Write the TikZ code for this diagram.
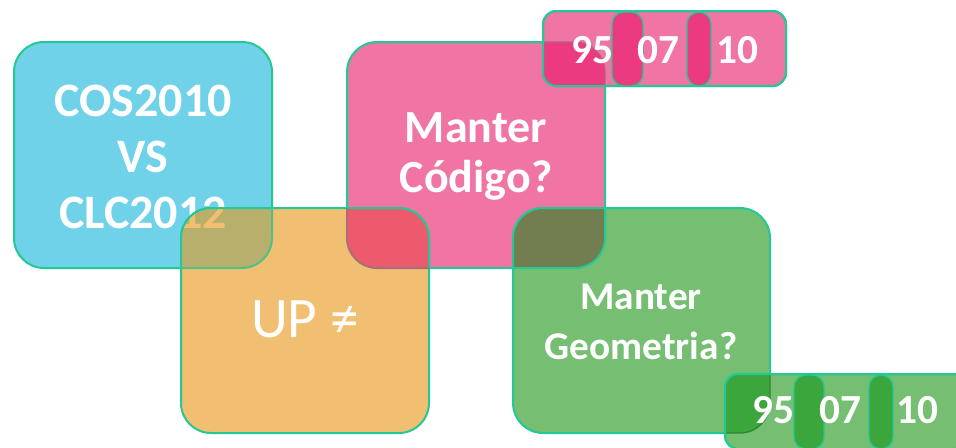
\documentclass[tikz,border=0pt]{standalone}
\usepackage{fontspec}
\setmainfont{Carlito}

\definecolor{edgeteal}{HTML}{22C994}
\definecolor{cosblue}{HTML}{70D2E9}
\definecolor{codpink}{HTML}{F074A4}
\definecolor{uporange}{HTML}{F1BF71}
\definecolor{geogreen}{HTML}{75BE72}
\definecolor{olive}{HTML}{B8AF6C}
\definecolor{redmix}{HTML}{EE5A6D}
\definecolor{darkolive}{HTML}{737E50}
\definecolor{deeppink}{HTML}{EC3A80}
\definecolor{deepgreen}{HTML}{3AA63C}

% areas, in pixels of the slide
\def\cosArea{(14,42) rectangle (272,268)}
\def\codArea{(347,42) rectangle (605,268)}
\def\upArea{(181,208) rectangle (429,433)}
\def\geoArea{(513,208) rectangle (770,433)}
\def\codStrip{(543,11) rectangle (786,86)}
\def\geoStrip{(725,374) rectangle (968,449)}
\def\cosText{COS2010\\VS\\CLC2012}

\begin{document}
\begin{tikzpicture}[x=0.75pt,y=-0.75pt,line width=1.5pt,
    every path/.style={rounded corners=22.5pt},
    box/.style={draw=edgeteal},
    strip/.style={rounded corners=10pt},
    bar/.style={draw=edgeteal,line width=1pt,rounded corners=9pt},
    boxlabel/.style={text=white,align=center},
    digit/.style={text=white,anchor=base,font=\bfseries\fontsize{31}{31}\selectfont}]
    \clip[rounded corners=0pt] (0,0) rectangle (956,447);

    \filldraw[box,fill=cosblue] \cosArea;
    \node[boxlabel,font=\bfseries\fontsize{36}{42}\selectfont] (cos) at (143,157) {\cosText};
    \filldraw[box,fill=codpink] \codArea;
    \node[boxlabel,font=\bfseries\fontsize{34.5}{37.5}\selectfont] (cod) at (476,156) {Manter\\Código?};
    \filldraw[box,fill=uporange] \upArea;

    % blue and orange
    \scope
    \clip \cosArea;
    \fill[olive] \upArea;
    \scope
    \clip \upArea;
    \node[boxlabel,text=uporange,font=\bfseries\fontsize{36}{42}\selectfont] at (cos) {\cosText};
    \endscope
    \draw[draw=edgeteal] \upArea;
    \endscope
    \scope
    \clip \upArea;
    \draw[draw=edgeteal!70!olive] \cosArea;
    \endscope

    % pink and orange
    \scope
    \clip \codArea;
    \fill[redmix] \upArea;
    \draw[draw=edgeteal] \upArea;
    \endscope
    \scope
    \clip \upArea;
    \draw[draw=redmix!55!black!70] \codArea;
    \endscope
    \node[text=white,font=\fontsize{43}{43}\selectfont] (up) at (305,319) {UP ≠};

    \filldraw[box,fill=geogreen] \geoArea;
    \node[boxlabel,font=\bfseries\fontsize{29.5}{37}\selectfont] (geo) at (641,322) {Manter\\Geometria?};

    % pink and green
    \scope
    \clip \codArea;
    \fill[darkolive] \geoArea;
    \draw[draw=edgeteal] \geoArea;
    \endscope
    \scope
    \clip \geoArea;
    \draw[draw=edgeteal] \codArea;
    \endscope

    % year strips
    \filldraw[box,strip,fill=codpink] \codStrip;
    \scope
    \clip \codArea;
    \fill[strip,deeppink] \codStrip;
    \endscope
    \scope
    \clip[strip] \codStrip;
    \draw[draw=deeppink!60!black!70,line width=1pt] \codArea;
    \endscope
    \draw[box,strip] \codStrip;
    \filldraw[bar,fill=deeppink] (612,12) rectangle (643,86);
    \filldraw[bar,fill=deeppink] (687,12) rectangle (711,86);
    \node[digit] (c95) at (592,63) {95};
    \node[digit] (c07) at (658,63) {07};
    \node[digit] (c10) at (737,63) {10};

    \filldraw[box,strip,fill=geogreen] \geoStrip;
    \scope
    \clip \geoArea;
    \fill[strip,deepgreen] \geoStrip;
    \endscope
    \scope
    \clip[strip] \geoStrip;
    \draw[draw=deepgreen!80!black,line width=1pt] \geoArea;
    \endscope
    \draw[box,strip] \geoStrip;
    \filldraw[bar,fill=deepgreen] (794,375) rectangle (824,449);
    \filldraw[bar,fill=deepgreen] (869,375) rectangle (893,449);
    \node[digit] (g95) at (773,423) {95};
    \node[digit] (g07) at (840,423) {07};
    \node[digit] (g10) at (917,423) {10};
\end{tikzpicture}
\end{document}
